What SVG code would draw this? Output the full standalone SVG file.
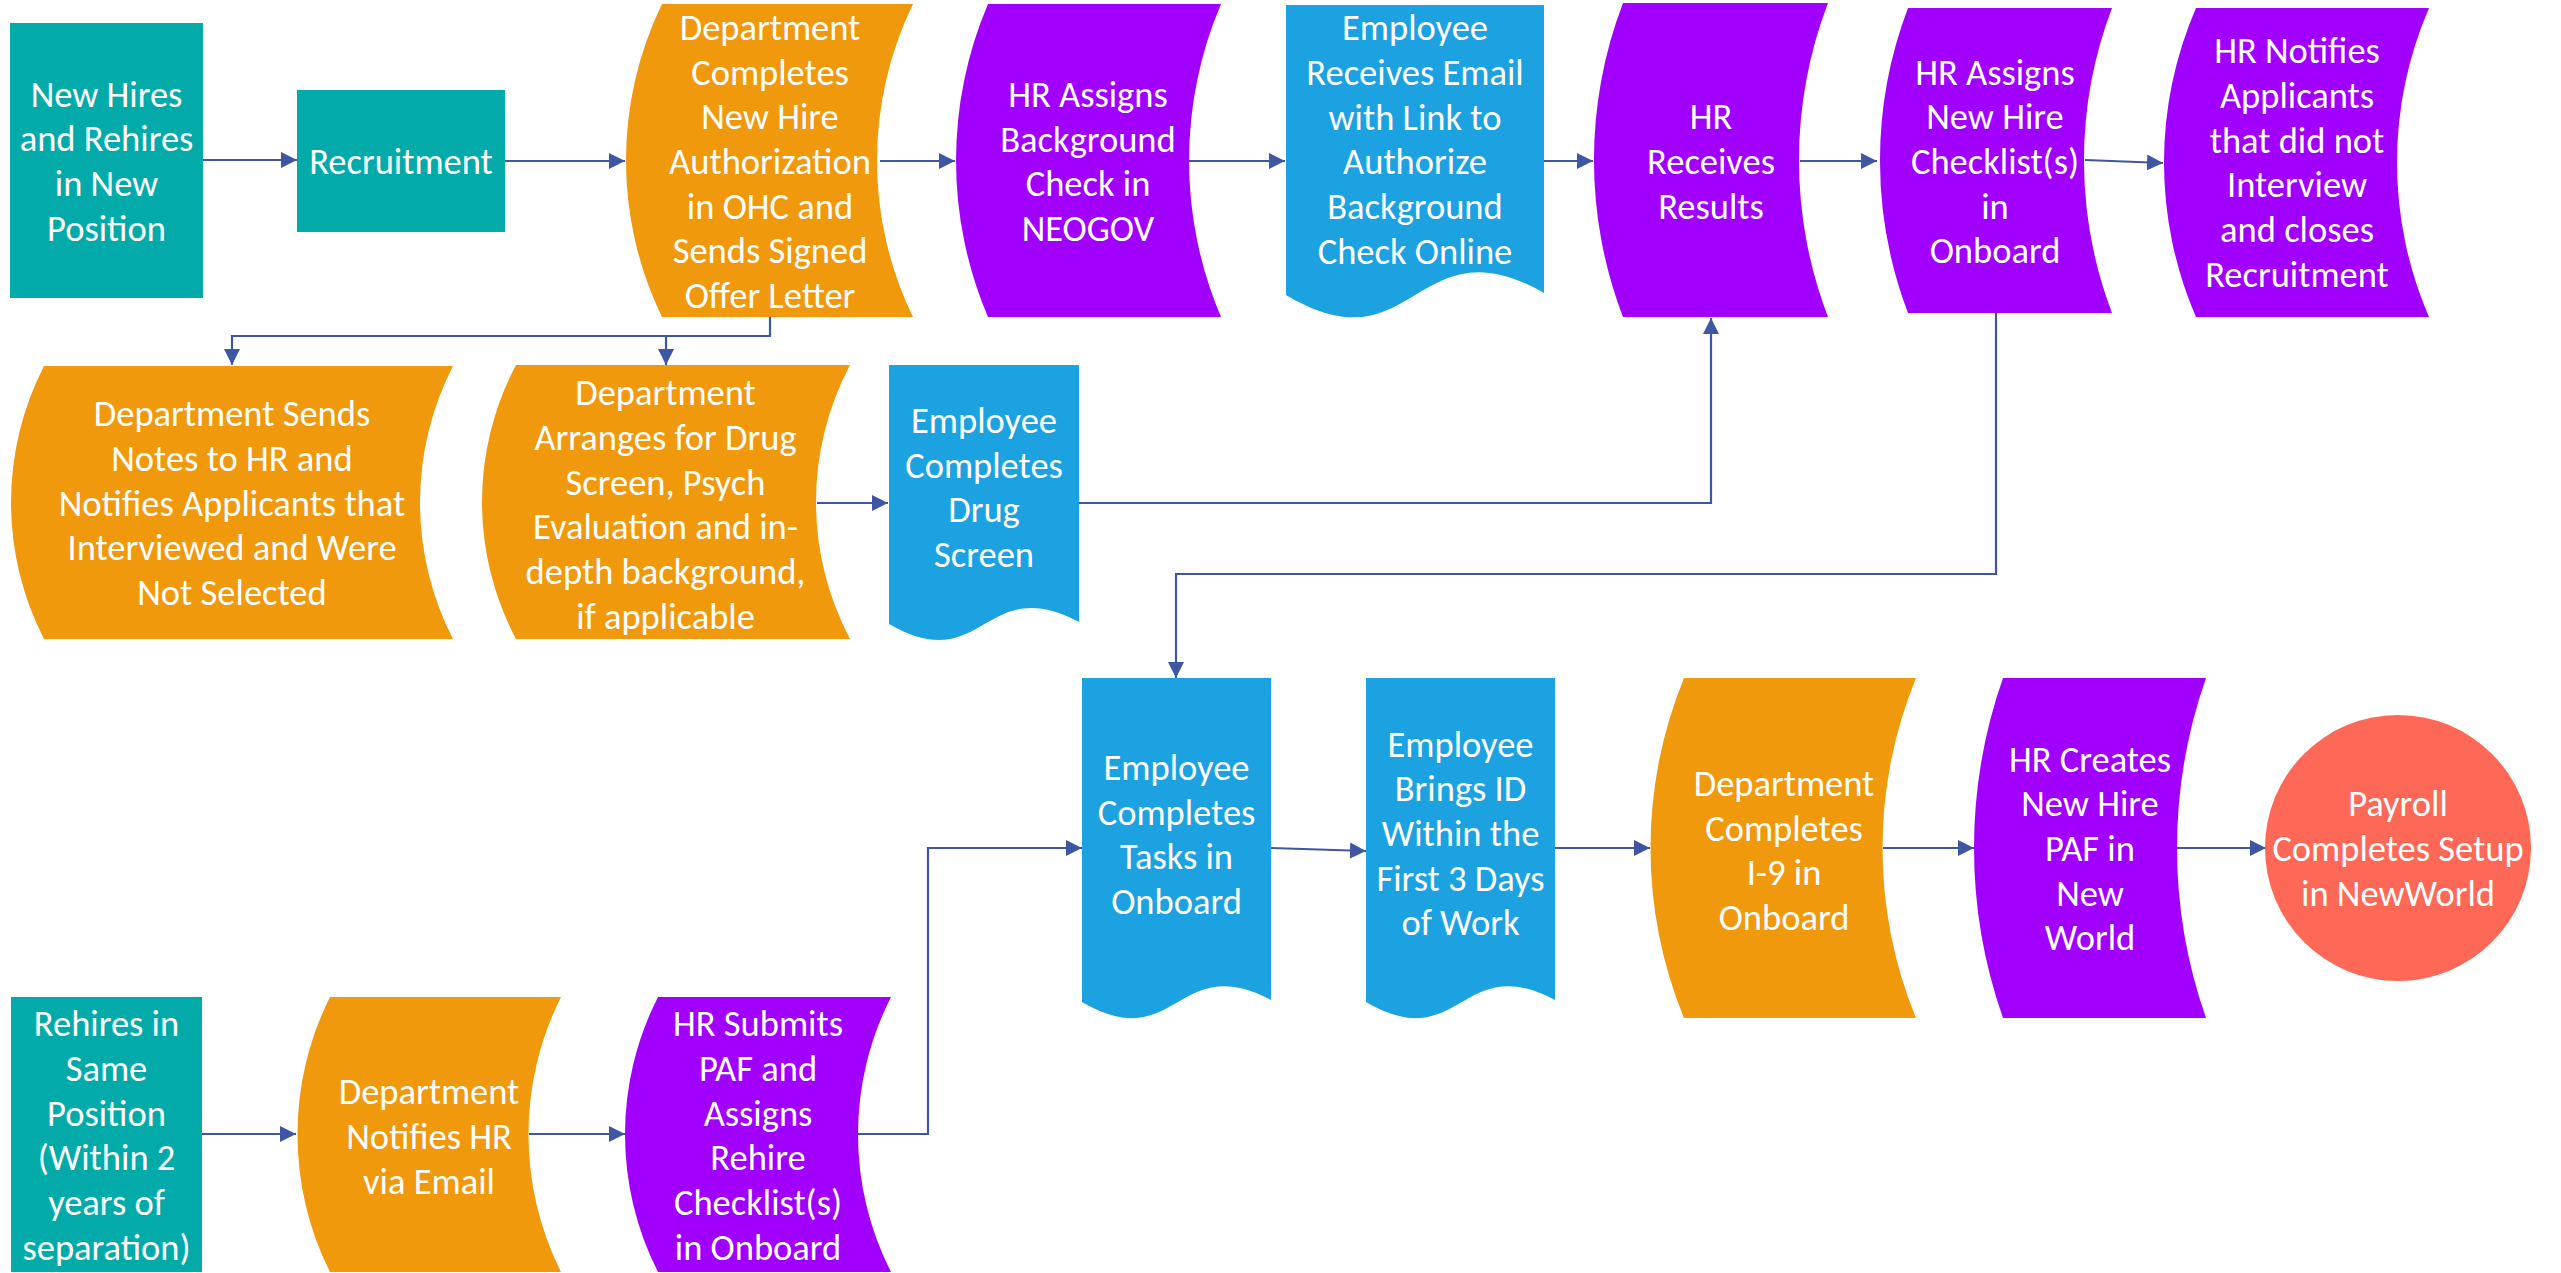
<svg xmlns="http://www.w3.org/2000/svg" width="2561" height="1273" viewBox="0 0 2561 1273">
<style>
.t{font-family:Carlito,Lato,"Open Sans",sans-serif;font-size:36.5px;fill:#fff;text-anchor:middle}
.teal{fill:#02ABA9}.org{fill:#F0990D}.pur{fill:#A100FF}.blu{fill:#1CA2E1}.red{fill:#FE6857}
.c{fill:none;stroke:#3F56A5;stroke-width:2.2}
.a{marker-end:url(#ah)}
</style>
<defs>
<marker id="ah" markerUnits="userSpaceOnUse" markerWidth="16" markerHeight="16" refX="16" refY="8" orient="auto">
<path d="M0,0 L16,8 L0,16 z" fill="#3F56A5"/>
</marker>
</defs>
<rect width="2561" height="1273" fill="#fff"/>
<g id="connectors">
<path class="c a" d="M203,160 H297"/>
<path class="c a" d="M505,161 H625"/>
<path class="c a" d="M880,161 H955"/>
<path class="c a" d="M1189,161 H1285"/>
<path class="c a" d="M1544,161 H1593"/>
<path class="c a" d="M1800,161 H1877"/>
<path class="c a" d="M2085,160 L2163,163"/>
<path class="c a" d="M770,317 V336 H232 V365"/>
<path class="c a" d="M770,336 H666 V365"/>
<path class="c a" d="M817,503 H888"/>
<path class="c a" d="M1079,503 H1711 V318"/>
<path class="c a" d="M1996,313 V574 H1176 V678"/>
<path class="c a" d="M1271,848 L1366,851"/>
<path class="c a" d="M1555,848 H1650"/>
<path class="c a" d="M1883,848 H1974"/>
<path class="c a" d="M2177,848 H2266"/>
<path class="c a" d="M202,1134 H296"/>
<path class="c a" d="M529,1134 H625"/>
<path class="c a" d="M858,1134 H928 V848 H1082"/>
</g>
<g id="n1"><rect class="teal" x="10" y="23" width="193" height="275"/>
<text class="t"><tspan x="106.5" y="106.5">New Hires</tspan><tspan x="106.5" y="151.2">and Rehires</tspan><tspan x="106.5" y="195.9">in New</tspan><tspan x="106.5" y="240.6">Position</tspan></text></g>
<g id="n2"><rect class="teal" x="297" y="90" width="208" height="142"/>
<text class="t"><tspan x="401" y="174">Recruitment</tspan></text></g>
<g id="n3"><path class="org" d="M662,4 H913 A358,358 0 0 0 913,317 H662 A358,358 0 0 1 662,4 Z"/>
<text class="t"><tspan x="770" y="39.9">Department</tspan><tspan x="770" y="84.6">Completes</tspan><tspan x="770" y="129.3">New Hire</tspan><tspan x="770" y="174">Authorization</tspan><tspan x="770" y="218.7">in OHC and</tspan><tspan x="770" y="263.4">Sends Signed</tspan><tspan x="770" y="308.1">Offer Letter</tspan></text></g>
<g id="n4"><path class="pur" d="M988,4 H1221 A399,399 0 0 0 1221,317 H988 A399,399 0 0 1 988,4 Z"/>
<text class="t"><tspan x="1088" y="106.95">HR Assigns</tspan><tspan x="1088" y="151.65">Background</tspan><tspan x="1088" y="196.35">Check in</tspan><tspan x="1088" y="241.05">NEOGOV</tspan></text></g>
<g id="n5"><path class="blu" d="M1286,5 H1544 V293 C1415,219 1415,372 1286,295 Z"/>
<text class="t"><tspan x="1415" y="40.25">Employee</tspan><tspan x="1415" y="84.95">Receives Email</tspan><tspan x="1415" y="129.65">with Link to</tspan><tspan x="1415" y="174.35">Authorize</tspan><tspan x="1415" y="219.05">Background</tspan><tspan x="1415" y="263.75">Check Online</tspan></text></g>
<g id="n6"><path class="pur" d="M1623,3 H1828 A439,439 0 0 0 1828,317 H1623 A439,439 0 0 1 1623,3 Z"/>
<text class="t"><tspan x="1711" y="129.3">HR</tspan><tspan x="1711" y="174">Receives</tspan><tspan x="1711" y="218.7">Results</tspan></text></g>
<g id="n7"><path class="pur" d="M1908,8 H2112 A429,429 0 0 0 2112,313 H1908 A429,429 0 0 1 1908,8 Z"/>
<text class="t"><tspan x="1995" y="84.6">HR Assigns</tspan><tspan x="1995" y="129.3">New Hire</tspan><tspan x="1995" y="174">Checklist(s)</tspan><tspan x="1995" y="218.7">in</tspan><tspan x="1995" y="263.4">Onboard</tspan></text></g>
<g id="n8"><path class="pur" d="M2196,8 H2429 A389,389 0 0 0 2429,317 H2196 A389,389 0 0 1 2196,8 Z"/>
<text class="t"><tspan x="2297" y="63.25">HR Notifies</tspan><tspan x="2297" y="107.95">Applicants</tspan><tspan x="2297" y="152.65">that did not</tspan><tspan x="2297" y="197.35">Interview</tspan><tspan x="2297" y="242.05">and closes</tspan><tspan x="2297" y="286.75">Recruitment</tspan></text></g>
<g id="n9"><path class="org" d="M44,366 H453 A299,299 0 0 0 453,639 H44 A299,299 0 0 1 44,366 Z"/>
<text class="t"><tspan x="232" y="426.1">Department Sends</tspan><tspan x="232" y="470.8">Notes to HR and</tspan><tspan x="232" y="515.5">Notifies Applicants that</tspan><tspan x="232" y="560.2">Interviewed and Were</tspan><tspan x="232" y="604.9">Not Selected</tspan></text></g>
<g id="n10"><path class="org" d="M516,365 H850 A293,293 0 0 0 850,639 H516 A293,293 0 0 1 516,365 Z"/>
<text class="t"><tspan x="665.5" y="405.25">Department</tspan><tspan x="665.5" y="449.95">Arranges for Drug</tspan><tspan x="665.5" y="494.65">Screen, Psych</tspan><tspan x="665.5" y="539.35">Evaluation and in-</tspan><tspan x="665.5" y="584.05">depth background,</tspan><tspan x="665.5" y="628.75">if applicable</tspan></text></g>
<g id="n11"><path class="blu" d="M889,365 H1079 V622 C984,571 984,679 889,624 Z"/>
<text class="t"><tspan x="984" y="432.95">Employee</tspan><tspan x="984" y="477.65">Completes</tspan><tspan x="984" y="522.35">Drug</tspan><tspan x="984" y="567.05">Screen</tspan></text></g>
<g id="n12"><path class="blu" d="M1082,678 H1271 V1000 C1176.5,950 1176.5,1057 1082,1002 Z"/>
<text class="t"><tspan x="1176.5" y="779.95">Employee</tspan><tspan x="1176.5" y="824.65">Completes</tspan><tspan x="1176.5" y="869.35">Tasks in</tspan><tspan x="1176.5" y="914.05">Onboard</tspan></text></g>
<g id="n13"><path class="blu" d="M1366,678 H1555 V1000 C1460.5,950 1460.5,1057 1366,1002 Z"/>
<text class="t"><tspan x="1460.5" y="756.6">Employee</tspan><tspan x="1460.5" y="801.3">Brings ID</tspan><tspan x="1460.5" y="846">Within the</tspan><tspan x="1460.5" y="890.7">First 3 Days</tspan><tspan x="1460.5" y="935.4">of Work</tspan></text></g>
<g id="n14"><path class="org" d="M1684,678 H1916 A448,448 0 0 0 1916,1018 H1684 A448,448 0 0 1 1684,678 Z"/>
<text class="t"><tspan x="1784" y="795.95">Department</tspan><tspan x="1784" y="840.65">Completes</tspan><tspan x="1784" y="885.35">I-9 in</tspan><tspan x="1784" y="930.05">Onboard</tspan></text></g>
<g id="n15"><path class="pur" d="M2003,678 H2206 A513,513 0 0 0 2206,1018 H2003 A513,513 0 0 1 2003,678 Z"/>
<text class="t"><tspan x="2090" y="771.6">HR Creates</tspan><tspan x="2090" y="816.3">New Hire</tspan><tspan x="2090" y="861">PAF in</tspan><tspan x="2090" y="905.7">New</tspan><tspan x="2090" y="950.4">World</tspan></text></g>
<g id="n16"><circle class="red" cx="2398" cy="848" r="133"/>
<text class="t"><tspan x="2398" y="816.3">Payroll</tspan><tspan x="2398" y="861">Completes Setup</tspan><tspan x="2398" y="905.7">in NewWorld</tspan></text></g>
<g id="n17"><rect class="teal" x="11" y="997" width="191" height="275"/>
<text class="t"><tspan x="106.5" y="1036.25">Rehires in</tspan><tspan x="106.5" y="1080.95">Same</tspan><tspan x="106.5" y="1125.65">Position</tspan><tspan x="106.5" y="1170.35">(Within 2</tspan><tspan x="106.5" y="1215.05">years of</tspan><tspan x="106.5" y="1259.75">separation)</tspan></text></g>
<g id="n18"><path class="org" d="M330,997 H561 A307,307 0 0 0 561,1272 H330 A307,307 0 0 1 330,997 Z"/>
<text class="t"><tspan x="429" y="1104.3">Department</tspan><tspan x="429" y="1149">Notifies HR</tspan><tspan x="429" y="1193.7">via Email</tspan></text></g>
<g id="n19"><path class="pur" d="M658,997 H891 A303,303 0 0 0 891,1272 H658 A303,303 0 0 1 658,997 Z"/>
<text class="t"><tspan x="758" y="1036.25">HR Submits</tspan><tspan x="758" y="1080.95">PAF and</tspan><tspan x="758" y="1125.65">Assigns</tspan><tspan x="758" y="1170.35">Rehire</tspan><tspan x="758" y="1215.05">Checklist(s)</tspan><tspan x="758" y="1259.75">in Onboard</tspan></text></g>
</svg>
